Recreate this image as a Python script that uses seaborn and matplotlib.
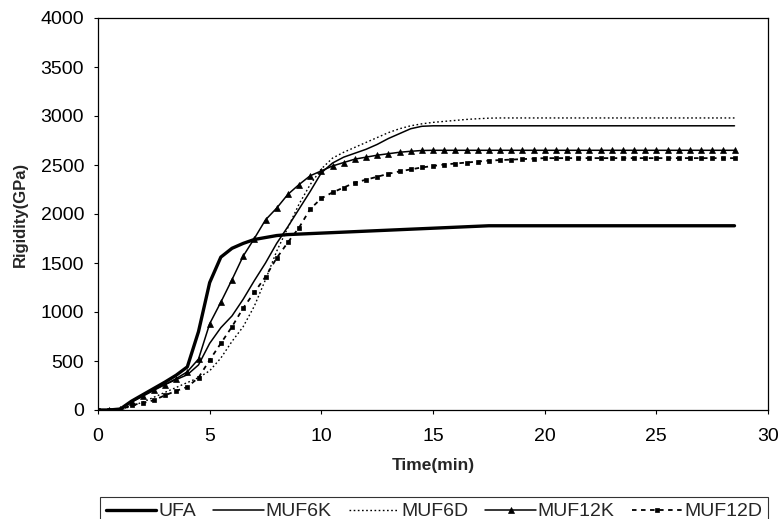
import numpy as np
import pandas as pd
import matplotlib
matplotlib.use("Agg")
import matplotlib.pyplot as plt
import seaborn as sns

# ---- data ----
time_min = np.arange(0, 28.51, 0.5)

ufa = [0, 0, 10, 90, 155, 220, 285, 355, 440, 800,
       1300, 1560, 1650, 1700, 1740, 1760, 1780, 1790, 1795, 1800,
       1805, 1810, 1815, 1820, 1825, 1830, 1835, 1840, 1845, 1850,
       1855, 1860, 1865, 1870, 1875, 1880, 1880, 1880, 1880, 1880,
       1880, 1880, 1880, 1880, 1880, 1880, 1880, 1880, 1880, 1880,
       1880, 1880, 1880, 1880, 1880, 1880, 1880, 1880]
muf6k = [0, 0, 10, 90, 150, 210, 260, 310, 360, 460,
         680, 840, 960, 1130, 1320, 1500, 1700, 1870, 2050, 2230,
         2420, 2520, 2580, 2620, 2660, 2710, 2770, 2820, 2870, 2895,
         2900, 2900, 2900, 2900, 2900, 2900, 2900, 2900, 2900, 2900,
         2900, 2900, 2900, 2900, 2900, 2900, 2900, 2900, 2900, 2900,
         2900, 2900, 2900, 2900, 2900, 2900, 2900, 2900]
muf6d = [0, 0, 0, 40, 80, 130, 180, 230, 280, 330,
         400, 530, 700, 850, 1060, 1330, 1620, 1860, 2100, 2300,
         2460, 2570, 2630, 2680, 2730, 2780, 2830, 2870, 2900, 2920,
         2935, 2945, 2955, 2965, 2972, 2978, 2980, 2980, 2980, 2980,
         2980, 2980, 2980, 2980, 2980, 2980, 2980, 2980, 2980, 2980,
         2980, 2980, 2980, 2980, 2980, 2980, 2980, 2980]
muf12k = [0, 0, 10, 80, 140, 200, 260, 320, 390, 520,
          880, 1100, 1330, 1570, 1750, 1940, 2060, 2200, 2300, 2390,
          2440, 2490, 2525, 2560, 2580, 2600, 2615, 2630, 2640, 2648,
          2650, 2650, 2650, 2650, 2650, 2650, 2650, 2650, 2650, 2650,
          2650, 2650, 2650, 2650, 2650, 2650, 2650, 2650, 2650, 2650,
          2650, 2650, 2650, 2650, 2650, 2650, 2650, 2650]
muf12d = [0, 0, 0, 50, 70, 100, 150, 195, 235, 330,
          510, 680, 850, 1040, 1200, 1360, 1550, 1710, 1860, 2050,
          2160, 2220, 2270, 2320, 2350, 2380, 2410, 2435, 2455, 2475,
          2490, 2505, 2515, 2525, 2535, 2545, 2550, 2555, 2560, 2565,
          2570, 2570, 2570, 2570, 2570, 2570, 2570, 2570, 2570, 2570,
          2570, 2570, 2570, 2570, 2570, 2570, 2570, 2570]

series_names = ["UFA", "MUF6K", "MUF6D", "MUF12K", "MUF12D"]
series_values = [ufa, muf6k, muf6d, muf12k, muf12d]

x_ticks = [0, 5, 10, 15, 20, 25, 30]
y_ticks = [0, 500, 1000, 1500, 2000, 2500, 3000, 3500, 4000]

# ---- styling ----
sns.set_style("ticks")
plt.rcParams["font.family"] = ["Liberation Sans", "DejaVu Sans"]

styles = {
    "UFA":    dict(linewidth=2.4, linestyle="-", marker=None),
    "MUF6K":  dict(linewidth=1.1, linestyle="-", marker=None),
    "MUF6D":  dict(linewidth=1.0, linestyle=(0, (1.2, 1.8)), marker=None),
    "MUF12K": dict(linewidth=1.1, linestyle="-", marker="^", markersize=4.5),
    "MUF12D": dict(linewidth=1.3, linestyle=(0, (2.5, 2.5)), marker="s", markersize=3.3),
}

fig = plt.figure(figsize=(7.8, 5.19), dpi=100)
ax = fig.add_axes([98 / 780, 1 - 410 / 519, 670 / 780, 392 / 519])

for name, vals in zip(series_names, series_values):
    st = styles[name]
    sns.lineplot(x=time_min, y=vals, ax=ax, color="black", label=name,
                 linewidth=st["linewidth"], linestyle=st["linestyle"],
                 marker=st["marker"], markersize=st.get("markersize", 0),
                 markeredgecolor="black", markerfacecolor="black",
                 markeredgewidth=0.5)

ax.set_xlim(0, 30)
ax.set_ylim(0, 4000)
ax.set_xticks(x_ticks)
ax.set_yticks(y_ticks)
ax.tick_params(axis="both", direction="out", length=3, width=0.8,
               labelsize=14, colors="black")
ax.tick_params(axis="x", pad=10)
ax.tick_params(axis="y", pad=7)
for sp in ax.spines.values():
    sp.set_color("black")
    sp.set_linewidth(0.9)

ax.set_xlabel("Time(min)", fontsize=12.5, fontweight="bold", labelpad=9)
ax.set_ylabel("Rigidity(GPa)", fontsize=12, fontweight="bold", labelpad=9)

handles, labels = ax.get_legend_handles_labels()
ax.get_legend().remove()
leg = fig.legend(handles, labels, loc="upper left", ncol=5, mode="expand",
                 bbox_to_anchor=(100 / 780, 1 - 497 / 519, 668 / 780, 0),
                 frameon=True, fancybox=False, fontsize=14,
                 handlelength=2.6, handletextpad=0.1, columnspacing=0.5,
                 borderaxespad=0, borderpad=0.3)
leg.get_frame().set_edgecolor("black")
leg.get_frame().set_linewidth(0.8)

fig.savefig("out.png", dpi=100)
